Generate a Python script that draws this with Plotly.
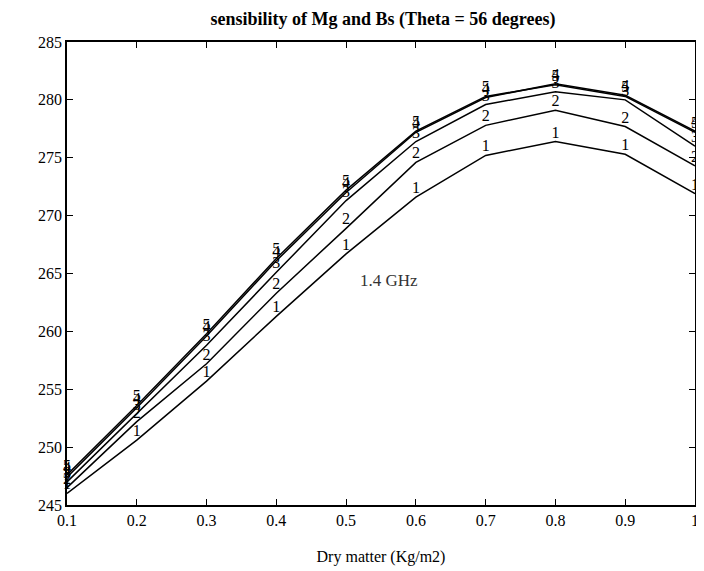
import plotly.graph_objects as go

dry_matter = [0.1, 0.2, 0.3, 0.4, 0.5, 0.6, 0.7, 0.8, 0.9, 1.0]
curve_1 = [246.0, 250.6, 255.7, 261.3, 266.7, 271.6, 275.2, 276.4, 275.3, 271.9]
curve_2 = [246.5, 252.2, 257.2, 263.3, 268.9, 274.6, 277.8, 279.1, 277.7, 274.3]
curve_3 = [247.0, 252.9, 258.8, 265.1, 271.3, 276.4, 279.6, 280.7, 280.0, 276.0]
curve_4 = [247.4, 253.4, 259.6, 266.1, 272.0, 277.2, 280.2, 281.4, 280.4, 277.3]
curve_5 = [247.6, 253.6, 259.8, 266.3, 272.2, 277.3, 280.3, 281.3, 280.3, 277.2]
curve_names = ["1", "2", "3", "4", "5"]
x_ticks = [0.1, 0.2, 0.3, 0.4, 0.5, 0.6, 0.7, 0.8, 0.9, 1.0]
x_tick_text = ["0.1", "0.2", "0.3", "0.4", "0.5", "0.6", "0.7", "0.8", "0.9", "1"]
y_ticks = [245, 250, 255, 260, 265, 270, 275, 280, 285]

SERIF = "Liberation Serif"

fig = go.Figure()
for name, ys in zip(curve_names, [curve_1, curve_2, curve_3, curve_4, curve_5]):
    fig.add_trace(go.Scatter(
        x=dry_matter, y=ys, mode="lines+text",
        text=[name] * len(dry_matter), textposition="top center",
        textfont=dict(family=SERIF, size=16, color="black"),
        line=dict(color="black", width=1.5),
        showlegend=False, cliponaxis=False,
    ))

fig.add_annotation(x=0.517, y=264.4, text="1.4 GHz", showarrow=False,
                   xanchor="left", yanchor="middle",
                   font=dict(family=SERIF, size=17, color="#333"))

axis_common = dict(showgrid=False, zeroline=False, showline=True, linecolor="black",
                   linewidth=1.6, mirror="ticks", ticks="inside", ticklen=6,
                   tickcolor="black", tickwidth=1.2, ticklabeloverflow="allow",
                   tickfont=dict(family=SERIF, size=16, color="black"))

fig.update_xaxes(range=[0.1, 1.0], tickvals=x_ticks, ticktext=x_tick_text,
                 title=dict(text="Dry matter (Kg/m2)", font=dict(family=SERIF, size=16, color="black"),
                            standoff=23),
                 **axis_common)
fig.update_yaxes(range=[245, 285], tickvals=y_ticks, **axis_common)

# page body has an 8px margin; figure sized to fill the remaining window
W, H = 696, 563
fig.update_layout(
    width=W, height=H,
    margin=dict(l=59, r=5, t=34, b=66),
    paper_bgcolor="white", plot_bgcolor="white",
    title=dict(text="<b>sensibility of Mg and Bs (Theta = 56 degrees)</b>",
               x=(59 + 691) / 2 / W, xanchor="center", y=1 - 11 / H, yanchor="middle",
               font=dict(family=SERIF, size=18, color="black")),
)

fig.write_html("out.html")
